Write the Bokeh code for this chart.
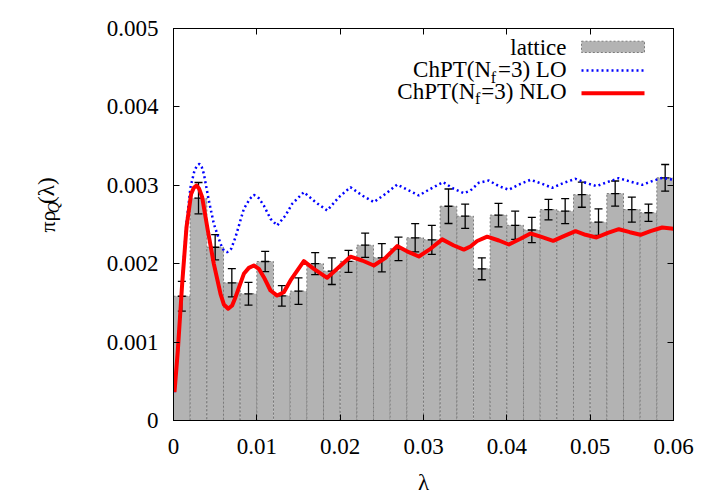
from math import pi
from bokeh.plotting import figure
from bokeh.layouts import row
from bokeh.models import (Range1d, LinearAxis, FixedTicker, Label, ColumnDataSource)
from bokeh.embed import file_html
from bokeh.resources import INLINE

# ---------------- data ----------------
lam_bins = [0.001, 0.003, 0.005, 0.007, 0.009, 0.011, 0.013, 0.015, 0.017, 0.019,
            0.021, 0.023, 0.025, 0.027, 0.029, 0.031, 0.033, 0.035, 0.037, 0.039,
            0.041, 0.043, 0.045, 0.047, 0.049, 0.051, 0.053, 0.055, 0.057, 0.059]
bin_width = 0.002
lattice = [0.001585, 0.002836, 0.002210, 0.001756, 0.001616, 0.002028, 0.001590,
           0.001650, 0.002000, 0.001905, 0.002030, 0.002236, 0.002075, 0.002190,
           0.002330, 0.002305, 0.002733, 0.002606, 0.001935, 0.002620, 0.002490,
           0.002430, 0.002690, 0.002670, 0.002880, 0.002530, 0.002895, 0.002690,
           0.002650, 0.003095]
lattice_err = [0.00019, 0.00020, 0.00016, 0.00018, 0.000145, 0.00013, 0.00013,
               0.00017, 0.00014, 0.00017, 0.00014, 0.000155, 0.00018, 0.00015,
               0.00018, 0.000185, 0.00022, 0.000155, 0.00014, 0.00015, 0.00018,
               0.00016, 0.00013, 0.00016, 0.00016, 0.00017, 0.00016, 0.00016,
               0.00011, 0.00017]

lo_lam = [0.00012, 0.00052, 0.00104, 0.00156, 0.00204, 0.00252, 0.00284, 0.00312,
          0.00340, 0.00364, 0.00424, 0.00484, 0.00564, 0.00604, 0.00644, 0.00692,
          0.00744, 0.00844, 0.00916, 0.00964, 0.01024, 0.01084, 0.01164, 0.01244,
          0.01344, 0.01424, 0.01564, 0.01704, 0.01844, 0.01984, 0.02124, 0.02264,
          0.02404, 0.02544, 0.02684, 0.02824, 0.02944, 0.03084, 0.03236, 0.03364,
          0.03484, 0.03564, 0.03664, 0.03784, 0.03904, 0.04024, 0.04164, 0.04284,
          0.04424, 0.04544, 0.04684, 0.04824, 0.04944, 0.05076, 0.05204, 0.05344,
          0.05476, 0.05624, 0.05744, 0.05864, 0.06000]
lo_rho = [0.000360, 0.000920, 0.001780, 0.002520, 0.002976, 0.003189, 0.003253,
          0.003274, 0.003230, 0.003147, 0.002806, 0.002509, 0.002254, 0.002168,
          0.002147, 0.002190, 0.002338, 0.002700, 0.002828, 0.002879, 0.002836,
          0.002742, 0.002573, 0.002487, 0.002615, 0.002764, 0.002912, 0.002785,
          0.002679, 0.002848, 0.002976, 0.002870, 0.002785, 0.002891, 0.003010,
          0.002934, 0.002870, 0.002955, 0.003040, 0.002955, 0.002900, 0.002934,
          0.003032, 0.003061, 0.002989, 0.002943, 0.003019, 0.003070, 0.003019,
          0.002968, 0.003032, 0.003083, 0.003032, 0.002989, 0.003040, 0.003091,
          0.003049, 0.003006, 0.003053, 0.003095, 0.003070]

nlo_lam = [0.00012, 0.00052, 0.00104, 0.00156, 0.00212, 0.00244, 0.00276, 0.00308,
           0.00344, 0.00412, 0.00484, 0.00564, 0.00604, 0.00656, 0.00704, 0.00744,
           0.00844, 0.00904, 0.00964, 0.01024, 0.01084, 0.01164, 0.01244, 0.01324,
           0.01404, 0.01564, 0.01684, 0.01844, 0.01984, 0.02124, 0.02264, 0.02404,
           0.02544, 0.02684, 0.02824, 0.02944, 0.03084, 0.03224, 0.03364, 0.03484,
           0.03564, 0.03644, 0.03764, 0.03904, 0.04024, 0.04164, 0.04284, 0.04424,
           0.04556, 0.04684, 0.04824, 0.04944, 0.05076, 0.05204, 0.05344, 0.05476,
           0.05604, 0.05724, 0.05864, 0.06000]
nlo_rho = [0.000361, 0.000893, 0.001743, 0.002466, 0.002891, 0.002968, 0.002997,
           0.002955, 0.002848, 0.002423, 0.001998, 0.001616, 0.001480, 0.001425,
           0.001467, 0.001573, 0.001871, 0.001947, 0.001977, 0.001935, 0.001828,
           0.001658, 0.001594, 0.001636, 0.001786, 0.002032, 0.001935, 0.001820,
           0.001956, 0.002090, 0.002041, 0.001977, 0.002075, 0.002225, 0.002147,
           0.002092, 0.002190, 0.002310, 0.002232, 0.002180, 0.002220, 0.002290,
           0.002345, 0.002296, 0.002245, 0.002318, 0.002385, 0.002338, 0.002292,
           0.002351, 0.002415, 0.002369, 0.002334, 0.002389, 0.002440, 0.002402,
           0.002369, 0.002415, 0.002462, 0.002445]

x_ticks = [0, 0.01, 0.02, 0.03, 0.04, 0.05, 0.06]
x_tick_labels = ["0", "0.01", "0.02", "0.03", "0.04", "0.05", "0.06"]
y_ticks = [0, 0.001, 0.002, 0.003, 0.004, 0.005]
y_tick_labels = ["0", "0.001", "0.002", "0.003", "0.004", "0.005"]

# ---------------- layout (page pixels) ----------------
LABEL_W = 80                 # width of the strip holding the y-axis title
FX0, FX1, FY0, FY1 = 173, 673, 420, 28
TOTAL_W, TOTAL_H = 700, 488
X0, X1, Y0, Y1 = 0.0, 0.06, 0.0, 0.005


def dx(px):
    return X0 + (px - FX0) / (FX1 - FX0) * (X1 - X0)


def dy(py):
    return Y0 + (FY0 - py) / (FY0 - FY1) * (Y1 - Y0)


FONT = "Liberation Serif"
FS = "23px"

p = figure(frame_width=FX1 - FX0, frame_height=FY0 - FY1,
           min_border_left=FX0 - LABEL_W, min_border_top=FY1,
           min_border_right=TOTAL_W - FX1, min_border_bottom=TOTAL_H - FY0,
           x_range=Range1d(X0, X1), y_range=Range1d(Y0, Y1),
           output_backend="svg", toolbar_location=None,
           x_axis_type=None, y_axis_type=None)
p.grid.visible = False
p.outline_line_color = "black"
p.outline_line_width = 1
p.background_fill_color = "white"
p.border_fill_color = "white"


def make_axis(ticks, labels, show, standoff=12):
    ax = LinearAxis(ticker=FixedTicker(ticks=ticks))
    ax.major_label_overrides = {t: (l if show else "") for t, l in zip(ticks, labels)}
    ax.major_tick_in = 6
    ax.major_tick_out = 0
    ax.minor_tick_in = 0
    ax.minor_tick_out = 0
    ax.axis_line_color = "black"
    ax.major_tick_line_color = "black"
    ax.major_label_text_font = FONT
    ax.major_label_text_font_size = FS if show else "1px"
    ax.major_label_text_color = "black"
    ax.major_label_standoff = standoff if show else 0
    return ax


xax = make_axis(x_ticks, x_tick_labels, True, standoff=18)
xax.axis_label = "λ"
xax.axis_label_text_font = FONT
xax.axis_label_text_font_size = "23px"
xax.axis_label_text_font_style = "normal"
xax.axis_label_text_color = "black"
xax.axis_label_standoff = 13
p.add_layout(xax, "below")
p.add_layout(make_axis(y_ticks, y_tick_labels, True, standoff=15), "left")
p.add_layout(make_axis(x_ticks, x_tick_labels, False), "above")
p.add_layout(make_axis(y_ticks, y_tick_labels, False), "right")

# ---------------- lattice histogram with error bars ----------------
src = ColumnDataSource(dict(
    x=lam_bins, top=lattice,
    upper=[v + e for v, e in zip(lattice, lattice_err)],
    lower=[v - e for v, e in zip(lattice, lattice_err)]))
p.vbar(x="x", top="top", bottom=0, width=bin_width, source=src,
       fill_color="#b3b3b3", line_color="#7a7a7a", line_dash="2 2", line_width=1)
p.segment(x0="x", y0="lower", x1="x", y1="upper", source=src,
          line_color="black", line_width=1.3)
for col in ("upper", "lower", "top"):
    p.scatter("x", col, source=src, marker="dash", size=8, line_color="black",
              line_width=1.3)

# ---------------- curves ----------------
p.line(lo_lam, lo_rho, line_color="#0000ff", line_width=2.5, line_dash="2 3")
p.line(nlo_lam, nlo_rho, line_color="#ff0000", line_width=4, line_join="round")

# ---------------- legend (hand drawn) ----------------
p.quad(left=dx(581), right=dx(644), top=dy(40.7), bottom=dy(52),
       fill_color="#b3b3b3", line_color="#7a7a7a", line_dash="2 2", line_width=1)
p.line([dx(581), dx(644)], [dy(70), dy(70)], line_color="#0000ff",
       line_width=2.5, line_dash="2 3")
p.line([dx(581), dx(644)], [dy(92.7), dy(92.7)], line_color="#ff0000", line_width=4)


def lab(text, px, py, align="right", size=FS, style="normal"):
    p.add_layout(Label(x=dx(px), y=dy(py), text=text, text_font=FONT,
                       text_font_size=size, text_font_style=style,
                       text_align=align, text_baseline="middle",
                       text_color="black"))


SUB = "16px"
lab("lattice", 566, 46.7)
lab("=3) LO", 566, 69.3)
lab("f", 495.5, 76.5, size=SUB)
lab("ChPT(N", 490.5, 69.3)
lab("=3) NLO", 566, 91)
lab("f", 479.8, 98.2, size=SUB)
lab("ChPT(N", 474.8, 91)

# ---------------- y-axis title strip ----------------
q = figure(width=LABEL_W, height=TOTAL_H, x_range=Range1d(0, LABEL_W),
           y_range=Range1d(0, TOTAL_H), min_border=0,
           min_border_left=0, min_border_right=0, min_border_top=0,
           min_border_bottom=0, output_backend="svg", toolbar_location=None,
           x_axis_type=None, y_axis_type=None)
q.grid.visible = False
q.outline_line_color = None
q.border_fill_color = "white"
q.background_fill_color = "white"


def ylab(text, px, py, size="23px", style="normal"):
    q.add_layout(Label(x=px, y=TOTAL_H - py, text=text, text_font=FONT,
                       text_font_size=size, text_font_style=style,
                       text_align="left", text_baseline="middle",
                       angle=pi / 2, text_color="black"))


ylab("πρ", 47, 260, size="22px")
ylab("Q", 53, 235.5, size="16px", style="italic")
ylab("(λ)", 46, 223.5)

layout = row(q, p, spacing=0)
open("out.html", "w").write(file_html(layout, INLINE))
